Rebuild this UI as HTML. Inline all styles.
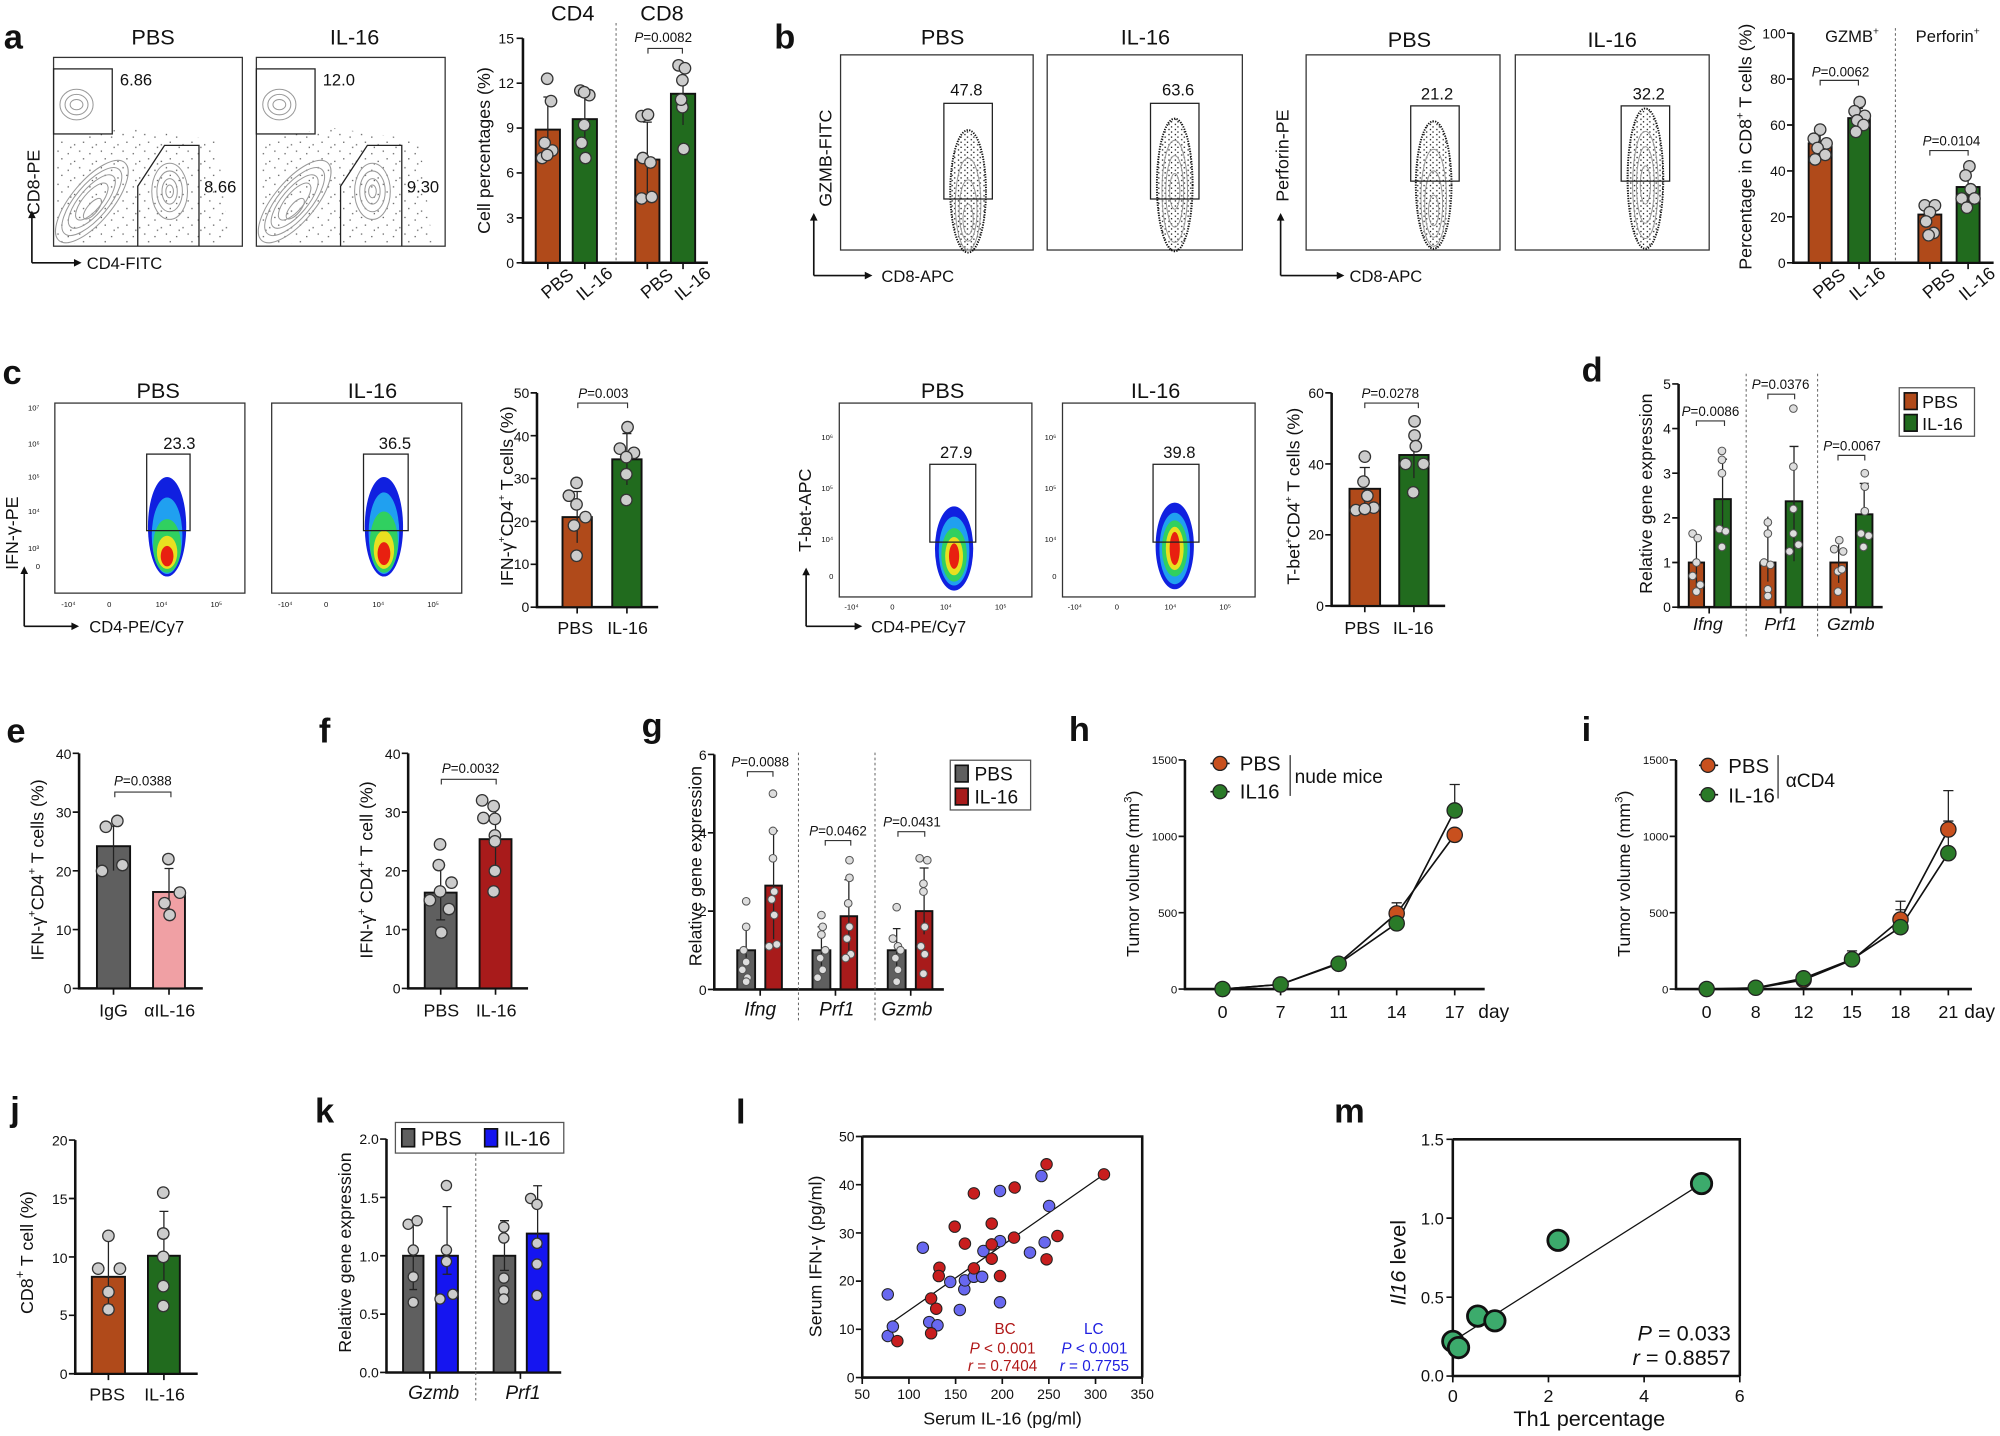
<!DOCTYPE html>
<html><head><meta charset="utf-8"><style>
html,body{margin:0;padding:0;background:#fff}
svg{display:block}
text{font-family:"Liberation Sans Narrow","Liberation Sans",Arial,sans-serif;fill:#111}
.L{font-family:"Liberation Sans",Arial,sans-serif;font-weight:bold;font-size:27px}
.T{font-size:17px;text-anchor:middle}
.k{font-size:11px;text-anchor:end}
.kx{font-size:14px;text-anchor:middle}
.yl{font-family:"Liberation Sans",Arial,sans-serif;font-size:14px;text-anchor:middle}
.p{font-size:10.5px;text-anchor:middle}
.ax{stroke:#111;stroke-width:2;fill:none}
.tk{stroke:#111;stroke-width:1.3}
.br{stroke:#111;stroke-width:1.5}
.er{stroke:#222;stroke-width:1;fill:none}
.d{fill:#ccc;stroke:#333;stroke-width:1}
.ds{fill:#ddd;stroke:#555;stroke-width:.8}
.bx{fill:none;stroke:#333;stroke-width:1}
.g{fill:none;stroke:#222;stroke-width:1}
.c{fill:none;stroke:#999;stroke-width:.8}
.dv{stroke:#666;stroke-width:.8;stroke-dasharray:2 2}
.br2{stroke:#333;stroke-width:.9;fill:none}
</style></head><body>
<svg width="2000" height="1436" viewBox="0 0 1568 1125.8" xmlns="http://www.w3.org/2000/svg">
<defs>
<pattern id="sp" width="17" height="13" patternUnits="userSpaceOnUse">
<rect x="2" y="3" width="1" height="1" fill="#444"/><rect x="11" y="1" width="1" height="1" fill="#444"/><rect x="7" y="9" width="1" height="1" fill="#444"/><rect x="14" y="7" width="1" height="1" fill="#444"/><rect x="4" y="11" width="1" height="1" fill="#444"/>
</pattern>
<pattern id="sp2" width="5" height="4" patternUnits="userSpaceOnUse">
<rect x="1" y="1" width="1" height="1" fill="#111"/><rect x="3" y="3" width="1" height="1" fill="#111"/>
</pattern>
</defs>

<!-- ================= PANEL a ================= -->
<text class="L" x="3" y="38">a</text>
<text class="T" x="120" y="35">PBS</text>
<text class="T" x="278" y="35">IL-16</text>
<g>
<rect x="42" y="45" width="148" height="148" class="bx"/>
<path d="M44,110 L100,100 L170,110 L180,190 L44,191Z" fill="url(#sp)" opacity=".9"/>
<g transform="rotate(-50 72 158)"><ellipse cx="72" cy="158" rx="40" ry="16" class="c"/><ellipse cx="72" cy="158" rx="33" ry="13" class="c"/><ellipse cx="72" cy="158" rx="26" ry="10" class="c"/><ellipse cx="72" cy="158" rx="18" ry="7" class="c"/><ellipse cx="68" cy="162" rx="10" ry="4" class="c"/></g>
<ellipse cx="60" cy="82" rx="13" ry="12" class="c"/><ellipse cx="60" cy="82" rx="9" ry="8" class="c"/><ellipse cx="60" cy="82" rx="5" ry="4" class="c"/>
<ellipse cx="133" cy="150" rx="14" ry="22" class="c"/><ellipse cx="133" cy="150" rx="10" ry="16" class="c"/><ellipse cx="133" cy="150" rx="6" ry="10" class="c"/><ellipse cx="133" cy="150" rx="3" ry="5" class="c"/>
<rect x="42" y="54" width="46" height="51" class="g"/>
<path d="M108,193 L108,146 L129,114 L156,114 L156,193" class="g"/>
<text x="94" y="67" font-size="13">6.86</text>
<text x="160" y="151" font-size="13">8.66</text>
</g>
<g>
<rect x="201" y="45" width="148" height="148" class="bx"/>
<path d="M203,110 L259,100 L329,110 L339,190 L203,191Z" fill="url(#sp)" opacity=".9"/>
<g transform="rotate(-50 231 158)"><ellipse cx="231" cy="158" rx="40" ry="16" class="c"/><ellipse cx="231" cy="158" rx="33" ry="13" class="c"/><ellipse cx="231" cy="158" rx="26" ry="10" class="c"/><ellipse cx="231" cy="158" rx="18" ry="7" class="c"/><ellipse cx="227" cy="162" rx="10" ry="4" class="c"/></g>
<ellipse cx="219" cy="82" rx="13" ry="12" class="c"/><ellipse cx="219" cy="82" rx="9" ry="8" class="c"/><ellipse cx="219" cy="82" rx="5" ry="4" class="c"/>
<ellipse cx="292" cy="150" rx="14" ry="22" class="c"/><ellipse cx="292" cy="150" rx="10" ry="16" class="c"/><ellipse cx="292" cy="150" rx="6" ry="10" class="c"/><ellipse cx="292" cy="150" rx="3" ry="5" class="c"/>
<rect x="201" y="54" width="46" height="51" class="g"/>
<path d="M267,193 L267,146 L288,114 L315,114 L315,193" class="g"/>
<text x="253" y="67" font-size="13">12.0</text>
<text x="319" y="151" font-size="13">9.30</text>
</g>
<path d="M25,206 L25,168" class="tk"/><path d="M22,171 L25,165 L28,171Z" fill="#111"/>
<path d="M25,206 L60,206" class="tk"/><path d="M58,203 L64,206 L58,209Z" fill="#111"/>
<text class="yl" transform="translate(31,143) rotate(-90)" font-size="12">CD8-PE</text>
<text x="68" y="211" font-size="13">CD4-FITC</text>
<!-- a bars -->
<path d="M410,30 L410,206 L555,206" class="ax"/>
<g class="tk"><path d="M405,30h5M405,65.2h5M405,100.4h5M405,135.6h5M405,170.8h5M405,206h5"/></g>
<text class="k" x="403" y="34">15</text><text class="k" x="403" y="69">12</text><text class="k" x="403" y="104">9</text><text class="k" x="403" y="139">6</text><text class="k" x="403" y="175">3</text><text class="k" x="403" y="210">0</text>
<rect x="420" y="101.6" width="19" height="104.4" fill="#b04a1a" class="br"/>
<rect x="449" y="93.4" width="19" height="112.6" fill="#216b1e" class="br"/>
<rect x="498" y="125.1" width="19" height="80.9" fill="#b04a1a" class="br"/>
<rect x="526" y="73.5" width="19" height="132.5" fill="#216b1e" class="br"/>
<path d="M429.5,76v50M426,76h7M458.5,74.6v38M455,74.6h7M507.5,95.7v60M504,95.7h7M535.5,53.5v44.5M532,53.5h7" class="er"/>
<line x1="483" y1="18" x2="483" y2="206" class="dv"/>
<g class="d"><circle cx="429" cy="61.7" r="4.5"/><circle cx="425" cy="123.9" r="4.5"/><circle cx="433" cy="118" r="4.5"/><circle cx="429" cy="121.5" r="4.5"/><circle cx="427" cy="112" r="4.5"/><circle cx="432" cy="79.3" r="4.5"/>
<circle cx="455" cy="71" r="4.5"/><circle cx="462" cy="74.6" r="4.5"/><circle cx="458" cy="72.3" r="4.5"/><circle cx="458" cy="98" r="4.5"/><circle cx="456" cy="112" r="4.5"/><circle cx="459" cy="123.9" r="4.5"/>
<circle cx="503" cy="91" r="4.5"/><circle cx="508" cy="89.9" r="4.5"/><circle cx="504" cy="123.9" r="4.5"/><circle cx="510" cy="127.4" r="4.5"/><circle cx="503" cy="155.6" r="4.5"/><circle cx="511" cy="154.4" r="4.5"/>
<circle cx="532" cy="51.2" r="4.5"/><circle cx="537" cy="53.5" r="4.5"/><circle cx="535" cy="62.9" r="4.5"/><circle cx="535" cy="84" r="4.5"/><circle cx="534" cy="78.1" r="4.5"/><circle cx="536" cy="116.8" r="4.5"/></g>
<g class="tk"><path d="M429.5,206v5M458.5,206v5M507.5,206v5M535.5,206v5"/></g>
<text class="T" x="449" y="16" font-size="15">CD4</text><text class="T" x="519" y="16" font-size="15">CD8</text>
<text class="p" x="520" y="33"><tspan font-style="italic">P</tspan>=0.0082</text>
<path d="M508,42v-4h27v4" class="br2"/>
<text class="kx" font-size="13" text-anchor="end" transform="translate(440,226) rotate(-40)">PBS</text>
<text class="kx" font-size="13" text-anchor="end" transform="translate(469,226) rotate(-40)">IL-16</text>
<text class="kx" font-size="13" text-anchor="end" transform="translate(518,226) rotate(-40)">PBS</text>
<text class="kx" font-size="13" text-anchor="end" transform="translate(546,226) rotate(-40)">IL-16</text>
<text class="yl" transform="translate(384,118) rotate(-90)" font-size="16">Cell percentages (%)</text>

<!-- ================= PANEL b ================= -->
<text class="L" x="607" y="38">b</text>
<text class="T" x="739" y="35">PBS</text><text class="T" x="898" y="35">IL-16</text>
<text class="T" x="1105" y="37">PBS</text><text class="T" x="1264" y="37">IL-16</text>
<g>
<rect x="659" y="43" width="151" height="153" class="bx"/>
<ellipse cx="759" cy="150" rx="14" ry="48" fill="url(#sp2)" stroke="#111" stroke-width="1.5" stroke-dasharray="1 1"/>
<ellipse cx="759" cy="160" rx="10" ry="36" class="c"/><ellipse cx="759" cy="165" rx="7" ry="24" class="c"/><ellipse cx="759" cy="172" rx="4" ry="12" class="c"/>
<rect x="740" y="81" width="38" height="75" class="g"/>
<text x="745" y="75" font-size="13">47.8</text>
</g>
<g>
<rect x="821" y="43" width="153" height="153" class="bx"/>
<ellipse cx="921" cy="145" rx="14" ry="52" fill="url(#sp2)" stroke="#111" stroke-width="1.5" stroke-dasharray="1 1"/>
<ellipse cx="921" cy="150" rx="10" ry="40" class="c"/><ellipse cx="921" cy="150" rx="7" ry="28" class="c"/><ellipse cx="921" cy="150" rx="4" ry="14" class="c"/>
<rect x="902" y="81" width="38" height="75" class="g"/>
<text x="911" y="75" font-size="13">63.6</text>
</g>
<g>
<rect x="1024" y="43" width="152" height="153" class="bx"/>
<ellipse cx="1124" cy="145" rx="14" ry="50" fill="url(#sp2)" stroke="#111" stroke-width="1.5" stroke-dasharray="1 1"/>
<ellipse cx="1124" cy="155" rx="10" ry="38" class="c"/><ellipse cx="1124" cy="160" rx="7" ry="26" class="c"/><ellipse cx="1124" cy="165" rx="4" ry="12" class="c"/>
<rect x="1106" y="83" width="38" height="59" class="g"/>
<text x="1114" y="78" font-size="13">21.2</text>
</g>
<g>
<rect x="1188" y="43" width="152" height="153" class="bx"/>
<ellipse cx="1290" cy="140" rx="14" ry="55" fill="url(#sp2)" stroke="#111" stroke-width="1.5" stroke-dasharray="1 1"/>
<ellipse cx="1290" cy="145" rx="10" ry="42" class="c"/><ellipse cx="1290" cy="145" rx="7" ry="30" class="c"/><ellipse cx="1290" cy="145" rx="4" ry="15" class="c"/>
<rect x="1271" y="83" width="38" height="59" class="g"/>
<text x="1280" y="78" font-size="13">32.2</text>
</g>
<path d="M638,216 L638,170" class="tk"/><path d="M635,173 L638,167 L641,173Z" fill="#111"/>
<path d="M638,216 L680,216" class="tk"/><path d="M678,213 L684,216 L678,219Z" fill="#111"/>
<text class="yl" transform="translate(652,124) rotate(-90)" font-size="12">GZMB-FITC</text>
<text x="691" y="221" font-size="13">CD8-APC</text>
<path d="M1004,216 L1004,170" class="tk"/><path d="M1001,173 L1004,167 L1007,173Z" fill="#111"/>
<path d="M1004,216 L1050,216" class="tk"/><path d="M1048,213 L1054,216 L1048,219Z" fill="#111"/>
<text class="yl" transform="translate(1010,122) rotate(-90)" font-size="12">Perforin-PE</text>
<text x="1058" y="221" font-size="13">CD8-APC</text>
<!-- b bars -->
<path d="M1406,26 L1406,206 L1563,206" class="ax"/>
<g class="tk"><path d="M1401,26h5M1401,62h5M1401,98h5M1401,134h5M1401,170h5M1401,206h5"/></g>
<text class="k" x="1400" y="30">100</text><text class="k" x="1400" y="66">80</text><text class="k" x="1400" y="102">60</text><text class="k" x="1400" y="138">40</text><text class="k" x="1400" y="174">20</text><text class="k" x="1400" y="210">0</text>
<rect x="1418" y="112.4" width="18" height="93.6" fill="#b04a1a" class="br"/>
<rect x="1449" y="92.6" width="17" height="113.4" fill="#216b1e" class="br"/>
<rect x="1504" y="168.2" width="18" height="37.8" fill="#b04a1a" class="br"/>
<rect x="1534" y="146.6" width="18" height="59.4" fill="#216b1e" class="br"/>
<path d="M1427,103v18M1424,103h6M1457.5,85v15M1454.5,85h6M1513,160v15M1510,160h6M1543,133v25M1540,133h6" class="er"/>
<line x1="1486" y1="22" x2="1486" y2="206" class="dv"/>
<g class="d"><circle cx="1427" cy="101.6" r="4.5"/><circle cx="1422" cy="108.8" r="4.5"/><circle cx="1432" cy="112.4" r="4.5"/><circle cx="1425" cy="116" r="4.5"/><circle cx="1431" cy="121.4" r="4.5"/><circle cx="1423" cy="125" r="4.5"/>
<circle cx="1458" cy="80" r="4.5"/><circle cx="1454" cy="87.2" r="4.5"/><circle cx="1462" cy="90.8" r="4.5"/><circle cx="1456" cy="94.4" r="4.5"/><circle cx="1461" cy="98" r="4.5"/><circle cx="1455" cy="103.4" r="4.5"/>
<circle cx="1509" cy="161" r="4.5"/><circle cx="1517" cy="161" r="4.5"/><circle cx="1513" cy="166.4" r="4.5"/><circle cx="1510" cy="173.6" r="4.5"/><circle cx="1516" cy="182.6" r="4.5"/><circle cx="1512" cy="184.4" r="4.5"/>
<circle cx="1544" cy="130.4" r="4.5"/><circle cx="1541" cy="137.6" r="4.5"/><circle cx="1545" cy="148.4" r="4.5"/><circle cx="1538" cy="155.6" r="4.5"/><circle cx="1548" cy="155.6" r="4.5"/><circle cx="1542" cy="162.8" r="4.5"/></g>
<g class="tk"><path d="M1427,206v5M1457.5,206v5M1513,206v5M1543,206v5"/></g>
<text x="1452" y="33" font-size="13" text-anchor="middle">GZMB<tspan font-size="8" dy="-6">+</tspan></text>
<text x="1527" y="33" font-size="13" text-anchor="middle">Perforin<tspan font-size="8" dy="-6">+</tspan></text>
<text class="p" x="1443" y="60"><tspan font-style="italic">P</tspan>=0.0062</text>
<path d="M1427,67v-4h30v4" class="br2"/>
<text class="p" x="1530" y="114"><tspan font-style="italic">P</tspan>=0.0104</text>
<path d="M1513,122v-4h30v4" class="br2"/>
<text class="kx" font-size="13" text-anchor="end" transform="translate(1437,226) rotate(-40)">PBS</text>
<text class="kx" font-size="13" text-anchor="end" transform="translate(1467,226) rotate(-40)">IL-16</text>
<text class="kx" font-size="13" text-anchor="end" transform="translate(1523,226) rotate(-40)">PBS</text>
<text class="kx" font-size="13" text-anchor="end" transform="translate(1553,226) rotate(-40)">IL-16</text>
<text class="yl" transform="translate(1373,115) rotate(-90)" font-size="14">Percentage in CD8<tspan font-size="9" dy="-6">+</tspan><tspan dy="6"> T cells (%)</tspan></text>

<!-- ================= PANEL c ================= -->
<text class="L" x="2" y="301">c</text>
<text class="T" x="124" y="312">PBS</text><text class="T" x="292" y="312">IL-16</text>
<g>
<rect x="43" y="316" width="149" height="149" class="bx"/>
<ellipse cx="131" cy="413" rx="15" ry="39" fill="#1020e0"/><ellipse cx="131" cy="420" rx="12" ry="30" fill="#20a0f0"/><ellipse cx="131" cy="428" rx="11" ry="21" fill="#30d060"/><ellipse cx="131" cy="433" rx="8" ry="13" fill="#e8e020"/><ellipse cx="131" cy="436" rx="5" ry="8" fill="#e82010"/>
<rect x="115" y="356" width="34" height="60" class="g"/>
<text x="128" y="352" font-size="13">23.3</text>
</g>
<g>
<rect x="213" y="316" width="149" height="149" class="bx"/>
<ellipse cx="301" cy="413" rx="15" ry="39" fill="#1020e0"/><ellipse cx="301" cy="418" rx="12" ry="32" fill="#20a0f0"/><ellipse cx="301" cy="425" rx="11" ry="24" fill="#30d060"/><ellipse cx="301" cy="431" rx="8" ry="15" fill="#e8e020"/><ellipse cx="301" cy="434" rx="5" ry="9" fill="#e82010"/>
<rect x="285" y="356" width="35" height="60" class="g"/>
<text x="297" y="352" font-size="13">36.5</text>
</g>
<g font-size="6" fill="#444"><text x="22" y="322">10⁷</text><text x="22" y="350">10⁶</text><text x="22" y="376">10⁵</text><text x="22" y="403">10⁴</text><text x="22" y="432">10³</text><text x="28" y="446">0</text>
<text x="48" y="476">-10⁴</text><text x="84" y="476">0</text><text x="122" y="476">10⁴</text><text x="165" y="476">10⁵</text>
<text x="218" y="476">-10⁴</text><text x="254" y="476">0</text><text x="292" y="476">10⁴</text><text x="335" y="476">10⁵</text></g>
<path d="M19,491 L19,447" class="tk"/><path d="M16,450 L19,444 L22,450Z" fill="#111"/>
<path d="M19,491 L58,491" class="tk"/><path d="M56,488 L62,491 L56,494Z" fill="#111"/>
<text class="yl" transform="translate(14,418) rotate(-90)" font-size="12">IFN-γ-PE</text>
<text x="70" y="496" font-size="13">CD4-PE/Cy7</text>
<!-- c bar -->
<path d="M421,308 L421,476 L516,476" class="ax"/>
<g class="tk"><path d="M416,308h5M416,341.6h5M416,375.2h5M416,408.8h5M416,442.4h5M416,476h5"/></g>
<text class="k" x="415" y="312">50</text><text class="k" x="415" y="346">40</text><text class="k" x="415" y="379">30</text><text class="k" x="415" y="413">20</text><text class="k" x="415" y="446">10</text><text class="k" x="415" y="480">0</text>
<rect x="441" y="405.4" width="23" height="70.6" fill="#b04a1a" class="br"/>
<rect x="480" y="360.1" width="23" height="115.9" fill="#216b1e" class="br"/>
<path d="M452.5,385.3v40.3M449,385.3h7M491.5,339.9v40.3M488,339.9h7" class="er"/>
<g class="d"><circle cx="452" cy="378.6" r="4.5"/><circle cx="446" cy="388.6" r="4.5"/><circle cx="452" cy="395.4" r="4.5"/><circle cx="459" cy="405.4" r="4.5"/><circle cx="450" cy="412" r="4.5"/><circle cx="452" cy="435.7" r="4.5"/>
<circle cx="492" cy="334.9" r="4.5"/><circle cx="486" cy="351.7" r="4.5"/><circle cx="497" cy="355" r="4.5"/><circle cx="491" cy="358.4" r="4.5"/><circle cx="491" cy="371.8" r="4.5"/><circle cx="491" cy="392" r="4.5"/></g>
<g class="tk"><path d="M452.5,476v5M491.5,476v5"/></g>
<text class="p" x="473" y="312"><tspan font-style="italic">P</tspan>=0.003</text>
<path d="M453,320v-4h39v4" class="br2"/>
<text class="kx" x="451" y="497">PBS</text><text class="kx" x="492" y="497">IL-16</text>
<text class="yl" transform="translate(402,389) rotate(-90)" font-size="13">IFN-γ<tspan font-size="8" dy="-6">+</tspan><tspan dy="6">CD4</tspan><tspan font-size="8" dy="-6">+</tspan><tspan dy="6"> T cells (%)</tspan></text>

<!-- c right -->
<text class="T" x="739" y="312">PBS</text><text class="T" x="906" y="312">IL-16</text>
<g>
<rect x="658" y="316" width="151" height="152" class="bx"/>
<ellipse cx="748" cy="430" rx="15" ry="33" fill="#1020e0"/><ellipse cx="748" cy="432" rx="12" ry="27" fill="#20a0f0"/><ellipse cx="748" cy="435" rx="10" ry="21" fill="#30d060"/><ellipse cx="748" cy="436" rx="7" ry="15" fill="#e8e020"/><ellipse cx="748" cy="436" rx="4" ry="10" fill="#e82010"/>
<rect x="729" y="364" width="36" height="61" class="g"/>
<text x="737" y="359" font-size="13">27.9</text>
</g>
<g>
<rect x="833" y="316" width="151" height="152" class="bx"/>
<ellipse cx="921" cy="428" rx="15" ry="34" fill="#1020e0"/><ellipse cx="921" cy="430" rx="12" ry="28" fill="#20a0f0"/><ellipse cx="921" cy="430" rx="10" ry="22" fill="#30d060"/><ellipse cx="921" cy="430" rx="7" ry="17" fill="#e8e020"/><ellipse cx="921" cy="430" rx="4" ry="13" fill="#e82010"/>
<rect x="904" y="364" width="36" height="61" class="g"/>
<text x="912" y="359" font-size="13">39.8</text>
</g>
<g font-size="6" fill="#444"><text x="644" y="345">10⁶</text><text x="644" y="385">10⁵</text><text x="644" y="425">10⁴</text><text x="650" y="454">0</text>
<text x="662" y="478">-10⁴</text><text x="698" y="478">0</text><text x="737" y="478">10⁴</text><text x="780" y="478">10⁵</text>
<text x="819" y="345">10⁶</text><text x="819" y="385">10⁵</text><text x="819" y="425">10⁴</text><text x="825" y="454">0</text>
<text x="837" y="478">-10⁴</text><text x="874" y="478">0</text><text x="913" y="478">10⁴</text><text x="956" y="478">10⁵</text></g>
<path d="M632,491 L632,448" class="tk"/><path d="M629,451 L632,445 L635,451Z" fill="#111"/>
<path d="M632,491 L672,491" class="tk"/><path d="M670,488 L676,491 L670,494Z" fill="#111"/>
<text class="yl" transform="translate(636,400) rotate(-90)" font-size="12">T-bet-APC</text>
<text x="683" y="496" font-size="13">CD4-PE/Cy7</text>
<!-- tbet bar -->
<path d="M1044,308 L1044,475 L1133,475" class="ax"/>
<g class="tk"><path d="M1039,308h5M1039,363.7h5M1039,419.3h5M1039,475h5"/></g>
<text class="k" x="1038" y="312">60</text><text class="k" x="1038" y="368">40</text><text class="k" x="1038" y="423">20</text><text class="k" x="1038" y="479">0</text>
<rect x="1058" y="383.2" width="24" height="91.8" fill="#b04a1a" class="br"/>
<rect x="1097" y="356.7" width="23" height="118.3" fill="#216b1e" class="br"/>
<path d="M1070,366.5v27.8M1066,366.5h8M1108.5,338.6v36.2M1105,338.6h8" class="er"/>
<g class="d"><circle cx="1070" cy="358" r="4.5"/><circle cx="1069" cy="377.6" r="4.5"/><circle cx="1072" cy="388.7" r="4.5"/><circle cx="1063" cy="399.9" r="4.5"/><circle cx="1077" cy="398" r="4.5"/><circle cx="1070" cy="399" r="4.5"/>
<circle cx="1109" cy="330.3" r="4.5"/><circle cx="1109" cy="341.4" r="4.5"/><circle cx="1110" cy="349.8" r="4.5"/><circle cx="1102" cy="363.7" r="4.5"/><circle cx="1116" cy="363.7" r="4.5"/><circle cx="1108" cy="386" r="4.5"/></g>
<g class="tk"><path d="M1070,475v5M1108.5,475v5"/></g>
<text class="p" x="1090" y="312"><tspan font-style="italic">P</tspan>=0.0278</text>
<path d="M1070,320v-4h42v4" class="br2"/>
<text class="kx" x="1068" y="497">PBS</text><text class="kx" x="1108" y="497">IL-16</text>
<text class="yl" transform="translate(1019,389) rotate(-90)" font-size="13">T-bet<tspan font-size="8" dy="-6">+</tspan><tspan dy="6">CD4</tspan><tspan font-size="8" dy="-6">+</tspan><tspan dy="6"> T cells (%)</tspan></text>

<!-- ================= PANEL d ================= -->
<text class="L" x="1240" y="299">d</text>
<path d="M1316,301 L1316,476 L1476,476" class="ax"/>
<g class="tk"><path d="M1311,301h5M1311,336h5M1311,371h5M1311,406h5M1311,441h5M1311,476h5"/></g>
<text class="k" x="1310" y="305">5</text><text class="k" x="1310" y="340">4</text><text class="k" x="1310" y="375">3</text><text class="k" x="1310" y="410">2</text><text class="k" x="1310" y="445">1</text><text class="k" x="1310" y="480">0</text>
<rect x="1324" y="441" width="12" height="35" fill="#b04a1a" class="br"/>
<rect x="1344" y="391.3" width="13" height="84.7" fill="#216b1e" class="br"/>
<rect x="1380" y="441" width="12" height="35" fill="#b04a1a" class="br"/>
<rect x="1400" y="393" width="13" height="83" fill="#216b1e" class="br"/>
<rect x="1435" y="441" width="13" height="35" fill="#b04a1a" class="br"/>
<rect x="1455" y="403.2" width="13" height="72.8" fill="#216b1e" class="br"/>
<path d="M1330,418.6v41.6M1350.5,360v56M1386,405v51M1406.5,350v90M1441.5,427v30M1461.5,379v20M1347,360h7M1403,350h7M1458,379h7" class="er"/>
<line x1="1369" y1="293" x2="1369" y2="500" class="dv"/><line x1="1425" y1="293" x2="1425" y2="500" class="dv"/>
<g class="ds"><circle cx="1327" cy="418.3" r="3"/><circle cx="1331" cy="421.8" r="3"/><circle cx="1330" cy="441" r="3"/><circle cx="1327" cy="451.5" r="3"/><circle cx="1333" cy="458.5" r="3"/><circle cx="1330" cy="463.8" r="3"/>
<circle cx="1350" cy="353.5" r="3"/><circle cx="1350" cy="360.5" r="3"/><circle cx="1350" cy="371" r="3"/><circle cx="1348" cy="414.8" r="3"/><circle cx="1353" cy="416.5" r="3"/><circle cx="1350" cy="428.8" r="3"/>
<circle cx="1386" cy="409.5" r="3"/><circle cx="1386" cy="418.3" r="3"/><circle cx="1383" cy="441" r="3"/><circle cx="1388" cy="442.8" r="3"/><circle cx="1386" cy="462" r="3"/><circle cx="1386" cy="467.3" r="3"/>
<circle cx="1406" cy="320.3" r="3"/><circle cx="1406" cy="365.8" r="3"/><circle cx="1406" cy="399" r="3"/><circle cx="1406" cy="418.3" r="3"/><circle cx="1410" cy="427" r="3"/><circle cx="1403" cy="432.3" r="3"/>
<circle cx="1442" cy="423.5" r="3"/><circle cx="1438" cy="430.5" r="3"/><circle cx="1445" cy="432.3" r="3"/><circle cx="1441" cy="448" r="3"/><circle cx="1444" cy="446.3" r="3"/><circle cx="1441" cy="463.8" r="3"/>
<circle cx="1462" cy="371" r="3"/><circle cx="1462" cy="381.5" r="3"/><circle cx="1462" cy="400.8" r="3"/><circle cx="1459" cy="418.3" r="3"/><circle cx="1465" cy="420" r="3"/><circle cx="1461" cy="428.8" r="3"/></g>
<g class="tk"><path d="M1340,476v5M1396,476v5M1451,476v5"/></g>
<text class="p" x="1341" y="326"><tspan font-style="italic">P</tspan>=0.0086</text><path d="M1330,334v-4h22v4" class="br2"/>
<text class="p" x="1396" y="305"><tspan font-style="italic">P</tspan>=0.0376</text><path d="M1386,313v-4h21v4" class="br2"/>
<text class="p" x="1452" y="353"><tspan font-style="italic">P</tspan>=0.0067</text><path d="M1441,361v-4h21v4" class="br2"/>
<g font-style="italic" font-size="14" text-anchor="middle"><text x="1339" y="494">Ifng</text><text x="1396" y="494">Prf1</text><text x="1451" y="494">Gzmb</text></g>
<rect x="1489" y="304" width="59" height="38" fill="#fff" stroke="#555" stroke-width="1"/>
<rect x="1493" y="308" width="10" height="13" fill="#b04a1a" stroke="#111" stroke-width="1.3"/><text x="1507" y="320" font-size="14">PBS</text>
<rect x="1493" y="325" width="10" height="13" fill="#216b1e" stroke="#111" stroke-width="1.3"/><text x="1507" y="337" font-size="14">IL-16</text>
<text class="yl" transform="translate(1295,387) rotate(-90)" font-size="13">Relative gene expression</text>

<!-- ================= PANEL e ================= -->
<text class="L" x="5" y="582">e</text>
<path d="M62,590.6 L62,774.9 L159,774.9" class="ax"/>
<g class="tk"><path d="M57,590.6h5M57,636.7h5M57,682.7h5M57,728.8h5M57,774.9h5"/></g>
<text class="k" x="56" y="595">40</text><text class="k" x="56" y="641">30</text><text class="k" x="56" y="687">20</text><text class="k" x="56" y="733">10</text><text class="k" x="56" y="779">0</text>
<rect x="76" y="663.4" width="26" height="111.5" fill="#5f5f5f" class="br"/>
<rect x="120" y="699.3" width="25" height="75.6" fill="#f0a0a4" class="br"/>
<path d="M89,647.7v34.9M85.5,647.7h7M132.5,680.9v37.3M129,680.9h7" class="er"/>
<g class="d"><circle cx="92" cy="643.6" r="4.5"/><circle cx="83" cy="648.2" r="4.5"/><circle cx="96" cy="678.2" r="4.5"/><circle cx="80" cy="682.8" r="4.5"/>
<circle cx="132" cy="673.5" r="4.5"/><circle cx="141" cy="699.8" r="4.5"/><circle cx="129" cy="708.1" r="4.5"/><circle cx="133" cy="717.3" r="4.5"/></g>
<g class="tk"><path d="M89,774.9v5M132.5,774.9v5"/></g>
<text class="p" x="112" y="616" font-size="12"><tspan font-style="italic">P</tspan>=0.0388</text>
<path d="M90,625v-4h44v4" class="br2"/>
<text class="kx" x="89" y="797" font-size="15">IgG</text><text class="kx" x="133" y="797" font-size="15">αIL-16</text>
<text class="yl" transform="translate(34,682) rotate(-90)" font-size="14">IFN-γ<tspan font-size="9" dy="-6">+</tspan><tspan dy="6">CD4</tspan><tspan font-size="9" dy="-6">+</tspan><tspan dy="6"> T cells (%)</tspan></text>

<!-- ================= PANEL f ================= -->
<text class="L" x="250" y="582">f</text>
<path d="M320,590.6 L320,774.9 L414,774.9" class="ax"/>
<g class="tk"><path d="M315,590.6h5M315,636.7h5M315,682.7h5M315,728.8h5M315,774.9h5"/></g>
<text class="k" x="314" y="595">40</text><text class="k" x="314" y="641">30</text><text class="k" x="314" y="687">20</text><text class="k" x="314" y="733">10</text><text class="k" x="314" y="779">0</text>
<rect x="333" y="699.8" width="25" height="75.1" fill="#5f5f5f" class="br"/>
<rect x="376" y="657.9" width="25" height="117" fill="#a81b1b" class="br"/>
<path d="M345.5,678.2v43M342,678.2h7M388.5,632v50.8M385,632h7M342,721.2h7M385,682.8h7" class="er"/>
<g class="d"><circle cx="345" cy="662" r="4.5"/><circle cx="344" cy="678.2" r="4.5"/><circle cx="354" cy="692" r="4.5"/><circle cx="345" cy="698.9" r="4.5"/><circle cx="337" cy="705.8" r="4.5"/><circle cx="352" cy="712.7" r="4.5"/><circle cx="346" cy="731.1" r="4.5"/>
<circle cx="378" cy="627.5" r="4.5"/><circle cx="387" cy="632" r="4.5"/><circle cx="379" cy="641.3" r="4.5"/><circle cx="388" cy="642" r="4.5"/><circle cx="388" cy="655" r="4.5"/><circle cx="388" cy="659.6" r="4.5"/><circle cx="388" cy="682.8" r="4.5"/><circle cx="387" cy="698.9" r="4.5"/></g>
<g class="tk"><path d="M345.5,774.9v5M388.5,774.9v5"/></g>
<text class="p" x="369" y="606" font-size="12"><tspan font-style="italic">P</tspan>=0.0032</text>
<path d="M346,615v-4h43v4" class="br2"/>
<text class="kx" x="346" y="797">PBS</text><text class="kx" x="389" y="797">IL-16</text>
<text class="yl" transform="translate(292,682) rotate(-90)" font-size="14">IFN-γ<tspan font-size="9" dy="-6">+</tspan><tspan dy="6"> CD4</tspan><tspan font-size="9" dy="-6">+</tspan><tspan dy="6"> T cell (%)</tspan></text>

<!-- ================= PANEL g ================= -->
<text class="L" x="503" y="578">g</text>
<path d="M560,591.5 L560,775.7 L740,775.7" class="ax"/>
<g class="tk"><path d="M555,591.5h5M555,652.9h5M555,714.3h5M555,775.7h5"/></g>
<text class="k" x="554" y="596">6</text><text class="k" x="554" y="657">4</text><text class="k" x="554" y="718">2</text><text class="k" x="554" y="780">0</text>
<rect x="578" y="745" width="14" height="30.7" fill="#5f5f5f" class="br"/>
<rect x="600" y="694.3" width="13" height="81.4" fill="#a81b1b" class="br"/>
<rect x="637" y="745" width="14" height="30.7" fill="#5f5f5f" class="br"/>
<rect x="659" y="718.3" width="13" height="57.4" fill="#a81b1b" class="br"/>
<rect x="696" y="745" width="14" height="30.7" fill="#5f5f5f" class="br"/>
<rect x="718" y="714.3" width="13" height="61.4" fill="#a81b1b" class="br"/>
<path d="M585,726.6v30M606.5,651.4v85M644,726.6v37M665.5,689.7v57M703,728v35M724.5,680.5v52M603,651.4h7M662,689.7h7M721,680.5h7M582,726.6h6M641,726.6h6M700,728h6" class="er"/>
<line x1="626" y1="590" x2="626" y2="800" class="dv"/><line x1="686" y1="590" x2="686" y2="800" class="dv"/>
<g class="ds"><circle cx="585" cy="706.6" r="3"/><circle cx="585" cy="726.6" r="3"/><circle cx="583" cy="745" r="3"/><circle cx="585" cy="754.2" r="3"/><circle cx="582" cy="760.3" r="3"/><circle cx="586" cy="766.5" r="3"/><circle cx="585" cy="769.6" r="3"/>
<circle cx="606" cy="622.2" r="3"/><circle cx="606" cy="651.4" r="3"/><circle cx="606" cy="672.9" r="3"/><circle cx="607" cy="699" r="3"/><circle cx="605" cy="705.1" r="3"/><circle cx="607" cy="717.4" r="3"/><circle cx="609" cy="740.4" r="3"/><circle cx="603" cy="741.9" r="3"/>
<circle cx="644" cy="717.4" r="3"/><circle cx="645" cy="726.6" r="3"/><circle cx="644" cy="732.7" r="3"/><circle cx="647" cy="745" r="3"/><circle cx="643" cy="751.1" r="3"/><circle cx="645" cy="760.3" r="3"/><circle cx="641" cy="766.5" r="3"/>
<circle cx="666" cy="674.4" r="3"/><circle cx="666" cy="688.2" r="3"/><circle cx="665" cy="708.2" r="3"/><circle cx="666" cy="726.6" r="3"/><circle cx="664" cy="735.8" r="3"/><circle cx="667" cy="748.1" r="3"/><circle cx="663" cy="751.1" r="3"/>
<circle cx="703" cy="711.2" r="3"/><circle cx="700" cy="735.8" r="3"/><circle cx="704" cy="741.9" r="3"/><circle cx="706" cy="745" r="3"/><circle cx="702" cy="751.1" r="3"/><circle cx="704" cy="760.3" r="3"/><circle cx="703" cy="769.6" r="3"/>
<circle cx="721" cy="672.9" r="3"/><circle cx="727" cy="674.4" r="3"/><circle cx="724" cy="692.8" r="3"/><circle cx="724" cy="699" r="3"/><circle cx="725" cy="726.6" r="3"/><circle cx="722" cy="741.9" r="3"/><circle cx="725" cy="748.1" r="3"/><circle cx="724" cy="763.4" r="3"/></g>
<g class="tk"><path d="M596,775.7v5M655,775.7v5M714,775.7v5"/></g>
<text class="p" x="596" y="601"><tspan font-style="italic">P</tspan>=0.0088</text><path d="M586,609v-4h20v4" class="br2"/>
<text class="p" x="657" y="655"><tspan font-style="italic">P</tspan>=0.0462</text><path d="M647,663v-4h20v4" class="br2"/>
<text class="p" x="715" y="648"><tspan font-style="italic">P</tspan>=0.0431</text><path d="M704,656v-4h21v4" class="br2"/>
<g font-style="italic" font-size="15" text-anchor="middle"><text x="596" y="796">Ifng</text><text x="656" y="796">Prf1</text><text x="711" y="796">Gzmb</text></g>
<rect x="745" y="596" width="63" height="39" fill="#fff" stroke="#555" stroke-width="1"/>
<rect x="749" y="600" width="10" height="13" fill="#5f5f5f" stroke="#111" stroke-width="1.3"/><text x="764" y="612" font-size="15">PBS</text>
<rect x="749" y="618" width="10" height="13" fill="#a81b1b" stroke="#111" stroke-width="1.3"/><text x="764" y="630" font-size="15">IL-16</text>
<text class="yl" transform="translate(550,679) rotate(-90)" font-size="14">Relative gene expression</text>

<!-- ================= PANEL h ================= -->
<text class="L" x="838" y="581">h</text>
<path d="M929,595.8 L929,775.4 L1164,775.4" class="ax"/>
<g class="tk"><path d="M924,595.8h5M924,655.7h5M924,715.5h5M924,775.4h5M958.5,775.4v5M1004,775.4v5M1049.5,775.4v5M1095,775.4v5M1140.5,775.4v5"/></g>
<g font-size="9" text-anchor="end"><text x="923" y="599">1500</text><text x="923" y="659">1000</text><text x="923" y="719">500</text><text x="923" y="779">0</text></g>
<g class="kx" font-size="15"><text x="958.5" y="798">0</text><text x="1004" y="798">7</text><text x="1049.5" y="798">11</text><text x="1095" y="798">14</text><text x="1140.5" y="798">17</text></g>
<text x="1159" y="798" font-size="15">day</text>
<path d="M1095,716v-8.2M1091,707.8h8M1140.5,635v-20M1136.5,615h8" class="er" stroke-width="1.5"/>
<polyline points="958.5,775.4 1004,771.8 1049.5,755 1095,716.1 1140.5,654.5" fill="none" stroke="#111" stroke-width="1.3"/>
<polyline points="958.5,775.4 1004,771.8 1049.5,755.6 1095,723.9 1140.5,635.4" fill="none" stroke="#111" stroke-width="1.3"/>
<g fill="#c8501e" stroke="#222" stroke-width="1"><circle cx="1095" cy="716.1" r="6"/><circle cx="1140.5" cy="654.5" r="6"/></g>
<g fill="#2a7a28" stroke="#222" stroke-width="1"><circle cx="958.5" cy="775.4" r="6"/><circle cx="1004" cy="771.8" r="6"/><circle cx="1049.5" cy="755.6" r="6"/><circle cx="1095" cy="723.9" r="6"/><circle cx="1140.5" cy="635.4" r="6"/></g>
<path d="M949,598.5h15M949,620.7h15" stroke="#111" stroke-width="1.3"/>
<circle cx="956.5" cy="598.5" r="5.5" fill="#c8501e" stroke="#222"/><circle cx="956.5" cy="620.7" r="5.5" fill="#2a7a28" stroke="#222"/>
<text x="972" y="604" font-size="16">PBS</text><text x="972" y="626" font-size="16">IL16</text>
<line x1="1011.5" y1="592" x2="1011.5" y2="624" stroke="#333" stroke-width="1"/>
<text x="1015" y="614" font-size="15">nude mice</text>
<text class="yl" transform="translate(893,685) rotate(-90)" font-size="15">Tumor volume (mm<tspan font-size="9" dy="-6">3</tspan><tspan dy="6">)</tspan></text>

<!-- ================= PANEL i ================= -->
<text class="L" x="1240" y="581">i</text>
<path d="M1314,595.8 L1314,775.4 L1546,775.4" class="ax"/>
<g class="tk"><path d="M1309,595.8h5M1309,655.7h5M1309,715.5h5M1309,775.4h5M1338,775.4v5M1376.5,775.4v5M1414,775.4v5M1452,775.4v5M1490,775.4v5M1527.5,775.4v5"/></g>
<g font-size="9" text-anchor="end"><text x="1308" y="599">1500</text><text x="1308" y="659">1000</text><text x="1308" y="719">500</text><text x="1308" y="779">0</text></g>
<g class="kx" font-size="15"><text x="1338" y="798">0</text><text x="1376.5" y="798">8</text><text x="1414" y="798">12</text><text x="1452" y="798">15</text><text x="1490" y="798">18</text><text x="1527.5" y="798">21</text></g>
<text x="1540" y="798" font-size="15">day</text>
<path d="M1452,752v-6.5M1448,745.5h8M1490,720v-13.4M1486,706.6h8M1486,713.2h8M1527.5,650v-6.3M1523.5,643.7h8M1527.5,668v-48.2M1523.5,619.8h8" class="er" stroke-width="1.5"/>
<polyline points="1338,775.4 1376.5,774.8 1414,768.2 1452,752.7 1490,720.9 1527.5,650.3" fill="none" stroke="#111" stroke-width="1.3"/>
<polyline points="1338,775.4 1376.5,774.4 1414,767 1452,752.1 1490,726.9 1527.5,668.9" fill="none" stroke="#111" stroke-width="1.3"/>
<g fill="#c8501e" stroke="#222" stroke-width="1"><circle cx="1414" cy="768.2" r="6"/><circle cx="1490" cy="720.9" r="6"/><circle cx="1527.5" cy="650.3" r="6"/></g>
<g fill="#2a7a28" stroke="#222" stroke-width="1"><circle cx="1338" cy="775.4" r="6"/><circle cx="1376.5" cy="774.4" r="6"/><circle cx="1414" cy="767" r="6"/><circle cx="1452" cy="752.1" r="6"/><circle cx="1490" cy="726.9" r="6"/><circle cx="1527.5" cy="668.9" r="6"/></g>
<path d="M1332,600h15M1332,623h15" stroke="#111" stroke-width="1.3"/>
<circle cx="1339" cy="600" r="5.5" fill="#c8501e" stroke="#222"/><circle cx="1339" cy="623" r="5.5" fill="#2a7a28" stroke="#222"/>
<text x="1355" y="606" font-size="16">PBS</text><text x="1355" y="629" font-size="16">IL-16</text>
<line x1="1394" y1="592" x2="1394" y2="626" stroke="#333" stroke-width="1"/>
<text x="1400" y="617" font-size="15">αCD4</text>
<text class="yl" transform="translate(1278,685) rotate(-90)" font-size="15">Tumor volume (mm<tspan font-size="9" dy="-6">3</tspan><tspan dy="6">)</tspan></text>

<!-- ================= PANEL j ================= -->
<text class="L" x="8" y="879">j</text>
<path d="M59,893.8 L59,1077 L155,1077" class="ax"/>
<g class="tk"><path d="M54,893.8h5M54,939.6h5M54,985.4h5M54,1031.2h5M54,1077h5"/></g>
<text class="k" x="53" y="898">20</text><text class="k" x="53" y="944">15</text><text class="k" x="53" y="990">10</text><text class="k" x="53" y="1035">5</text><text class="k" x="53" y="1081">0</text>
<rect x="72" y="1001" width="26" height="76" fill="#b04a1a" class="br"/>
<rect x="116" y="984.5" width="25" height="92.5" fill="#216b1e" class="br"/>
<path d="M85,968v55M81.5,968h7M81.5,1023h7M128.5,949.7v58M125,949.7h7M125,1007.7h7" class="er"/>
<g class="d"><circle cx="85" cy="968.9" r="4.5"/><circle cx="77" cy="994.6" r="4.5"/><circle cx="94" cy="994.6" r="4.5"/><circle cx="85" cy="1012.9" r="4.5"/><circle cx="85" cy="1026.6" r="4.5"/>
<circle cx="128" cy="935" r="4.5"/><circle cx="128" cy="967.1" r="4.5"/><circle cx="128" cy="985.4" r="4.5"/><circle cx="128" cy="1008.3" r="4.5"/><circle cx="128" cy="1023.9" r="4.5"/></g>
<g class="tk"><path d="M85,1077v5M128.5,1077v5"/></g>
<text class="kx" x="84" y="1098" font-size="15">PBS</text><text class="kx" x="129" y="1098" font-size="15">IL-16</text>
<text class="yl" transform="translate(26,982) rotate(-90)" font-size="16">CD8<tspan font-size="10" dy="-7">+</tspan><tspan dy="7"> T cell (%)</tspan></text>

<!-- ================= PANEL k ================= -->
<text class="L" x="247" y="880">k</text>
<path d="M303,893 L303,1076 L440,1076" class="ax"/>
<g class="tk"><path d="M298,893h5M298,938.75h5M298,984.5h5M298,1030.25h5M298,1076h5"/></g>
<text class="k" x="297" y="897">2.0</text><text class="k" x="297" y="943">1.5</text><text class="k" x="297" y="989">1.0</text><text class="k" x="297" y="1034">0.5</text><text class="k" x="297" y="1080">0.0</text>
<rect x="316" y="984.5" width="16" height="91.5" fill="#5f5f5f" class="br"/>
<rect x="342" y="984.5" width="17" height="91.5" fill="#1515f0" class="br"/>
<rect x="387" y="984.5" width="17" height="91.5" fill="#5f5f5f" class="br"/>
<rect x="413" y="967.1" width="17" height="108.9" fill="#1515f0" class="br"/>
<path d="M324,958.9v52M321,1011h6M350.5,946v53M347,946h7M347,999h7M395.5,957v39M392,957h7M392,996h7M421.5,929.6v48M418,929.6h7M418,977.7h7" class="er"/>
<line x1="373" y1="900" x2="373" y2="1100" class="dv"/>
<g class="d"><circle cx="320" cy="959.8" r="4"/><circle cx="327" cy="957" r="4"/><circle cx="324" cy="980" r="4"/><circle cx="324" cy="1001" r="4"/><circle cx="324" cy="1021" r="4"/>
<circle cx="350" cy="929.4" r="4"/><circle cx="350" cy="980" r="4"/><circle cx="350" cy="989" r="4"/><circle cx="355" cy="1014.7" r="4"/><circle cx="345" cy="1018.4" r="4"/>
<circle cx="395" cy="962" r="4"/><circle cx="395" cy="970.6" r="4"/><circle cx="395" cy="1002" r="4"/><circle cx="395" cy="1012" r="4"/><circle cx="395" cy="1018.4" r="4"/>
<circle cx="416" cy="939.6" r="4"/><circle cx="421" cy="944.2" r="4"/><circle cx="421" cy="974.7" r="4"/><circle cx="421" cy="991" r="4"/><circle cx="421" cy="1015.6" r="4"/></g>
<g class="tk"><path d="M337,1076v5M408,1076v5"/></g>
<g font-style="italic" font-size="15" text-anchor="middle"><text x="340" y="1097">Gzmb</text><text x="410" y="1097">Prf1</text></g>
<rect x="310" y="880" width="132" height="24" fill="#fff" stroke="#555" stroke-width="1"/>
<rect x="315" y="885" width="10" height="14" fill="#5f5f5f" stroke="#111" stroke-width="1.3"/><text x="330" y="898" font-size="16">PBS</text>
<rect x="380" y="885" width="10" height="14" fill="#1515f0" stroke="#111" stroke-width="1.3"/><text x="395" y="898" font-size="16">IL-16</text>
<text class="yl" transform="translate(275,982) rotate(-90)" font-size="15">Relative gene expression</text>

<!-- ================= PANEL l ================= -->
<text class="L" x="577" y="881">l</text>
<path d="M676,891 L676,1080 L895.5,1080 M676,891 L895.5,891 L895.5,1080" class="ax"/>
<g class="tk"><path d="M671,891h5M671,928.8h5M671,966.6h5M671,1004.4h5M671,1042.2h5M671,1080h5M676,1080v5M712.6,1080v5M749.2,1080v5M785.8,1080v5M822.3,1080v5M858.9,1080v5M895.5,1080v5"/></g>
<text class="k" x="670" y="895">50</text><text class="k" x="670" y="933">40</text><text class="k" x="670" y="971">30</text><text class="k" x="670" y="1008">20</text><text class="k" x="670" y="1046">10</text><text class="k" x="670" y="1084">0</text>
<g font-size="11" text-anchor="middle"><text x="676" y="1097">50</text><text x="712.6" y="1097">100</text><text x="749.2" y="1097">150</text><text x="785.8" y="1097">200</text><text x="822.3" y="1097">250</text><text x="858.9" y="1097">300</text><text x="895.5" y="1097">350</text></g>
<text x="786" y="1117" font-size="14" text-anchor="middle">Serum IL-16 (pg/ml)</text>
<text class="yl" transform="translate(644,985) rotate(-90)" font-size="13">Serum IFN-γ (pg/ml)</text>
<line x1="696" y1="1039" x2="865.5" y2="920.7" stroke="#111" stroke-width="1"/>
<g fill="#6868f0" stroke="#222" stroke-width=".8">
<circle cx="696" cy="1014.8" r="4.5"/><circle cx="696" cy="1047.4" r="4.5"/><circle cx="700" cy="1040" r="4.5"/><circle cx="723.5" cy="978.2" r="4.5"/><circle cx="728.5" cy="1036.5" r="4.5"/><circle cx="735" cy="1039" r="4.5"/><circle cx="745" cy="1005" r="4.5"/><circle cx="752.5" cy="1027" r="4.5"/><circle cx="756" cy="1010.8" r="4.5"/><circle cx="756.5" cy="1003.8" r="4.5"/><circle cx="763.5" cy="1001" r="4.5"/><circle cx="770" cy="1001" r="4.5"/><circle cx="771" cy="980.8" r="4.5"/><circle cx="784" cy="933.7" r="4.5"/><circle cx="784" cy="973" r="4.5"/><circle cx="784" cy="1021" r="4.5"/><circle cx="816.5" cy="922" r="4.5"/><circle cx="822.5" cy="945.5" r="4.5"/><circle cx="819" cy="974" r="4.5"/><circle cx="807.5" cy="982" r="4.5"/></g>
<g fill="#c81e1e" stroke="#222" stroke-width=".8">
<circle cx="703.5" cy="1051.4" r="4.5"/><circle cx="730" cy="1018" r="4.5"/><circle cx="730" cy="1045.3" r="4.5"/><circle cx="734" cy="1026" r="4.5"/><circle cx="736.5" cy="993.9" r="4.5"/><circle cx="736" cy="1000.4" r="4.5"/><circle cx="748.5" cy="961.7" r="4.5"/><circle cx="756.5" cy="975" r="4.5"/><circle cx="763.5" cy="935.6" r="4.5"/><circle cx="763.5" cy="994.4" r="4.5"/><circle cx="777.5" cy="959.3" r="4.5"/><circle cx="777.5" cy="986.8" r="4.5"/><circle cx="777.5" cy="975.6" r="4.5"/><circle cx="784" cy="1000.4" r="4.5"/><circle cx="820.5" cy="912.8" r="4.5"/><circle cx="865.5" cy="920.7" r="4.5"/><circle cx="795.5" cy="931" r="4.5"/><circle cx="795" cy="970.3" r="4.5"/><circle cx="829" cy="969" r="4.5"/><circle cx="820.5" cy="987.3" r="4.5"/></g>
<g font-size="12" text-anchor="middle"><text x="788" y="1046" style="fill:#b01818">BC</text><text x="786" y="1061" style="fill:#b01818"><tspan font-style="italic">P</tspan> &lt; 0.001</text><text x="786" y="1075" style="fill:#b01818"><tspan font-style="italic">r</tspan> = 0.7404</text>
<text x="857.5" y="1046" style="fill:#2020e0">LC</text><text x="858" y="1061" style="fill:#2020e0"><tspan font-style="italic">P</tspan> &lt; 0.001</text><text x="858" y="1075" style="fill:#2020e0"><tspan font-style="italic">r</tspan> = 0.7755</text></g>

<!-- ================= PANEL m ================= -->
<text class="L" x="1046" y="880">m</text>
<path d="M1139,893.2 L1139,1078.8 L1364,1078.8 M1139,893.2 L1364,893.2 L1364,1078.8" class="ax"/>
<g class="tk"><path d="M1134,893.2h5M1134,955h5M1134,1017h5M1134,1078.8h5M1139,1078.8v5M1214,1078.8v5M1289,1078.8v5M1364,1078.8v5"/></g>
<g font-size="13" text-anchor="end"><text x="1132" y="898">1.5</text><text x="1132" y="960">1.0</text><text x="1132" y="1022">0.5</text><text x="1132" y="1083">0.0</text></g>
<g font-size="14" text-anchor="middle"><text x="1139" y="1099">0</text><text x="1214" y="1099">2</text><text x="1289" y="1099">4</text><text x="1364" y="1099">6</text></g>
<text x="1246" y="1118" font-size="17" text-anchor="middle">Th1 percentage</text>
<text transform="translate(1102,990) rotate(-90)" font-size="17" text-anchor="middle" style="font-family:'Liberation Sans',Arial,sans-serif"><tspan font-style="italic">Il16</tspan>  level</text>
<line x1="1139" y1="1051.6" x2="1334" y2="927.9" stroke="#111" stroke-width="1"/>
<g fill="#3cab6c" stroke="#111" stroke-width="2.2"><circle cx="1139" cy="1051.6" r="8"/><circle cx="1143.5" cy="1056.5" r="8"/><circle cx="1158.5" cy="1031.8" r="8"/><circle cx="1172" cy="1035.5" r="8"/><circle cx="1221.5" cy="972.4" r="8"/><circle cx="1334" cy="927.9" r="8"/></g>
<g font-size="17" text-anchor="end"><text x="1357" y="1051"><tspan font-style="italic">P</tspan> = 0.033</text><text x="1357" y="1070"><tspan font-style="italic">r</tspan> = 0.8857</text></g>
</svg>
</body></html>
